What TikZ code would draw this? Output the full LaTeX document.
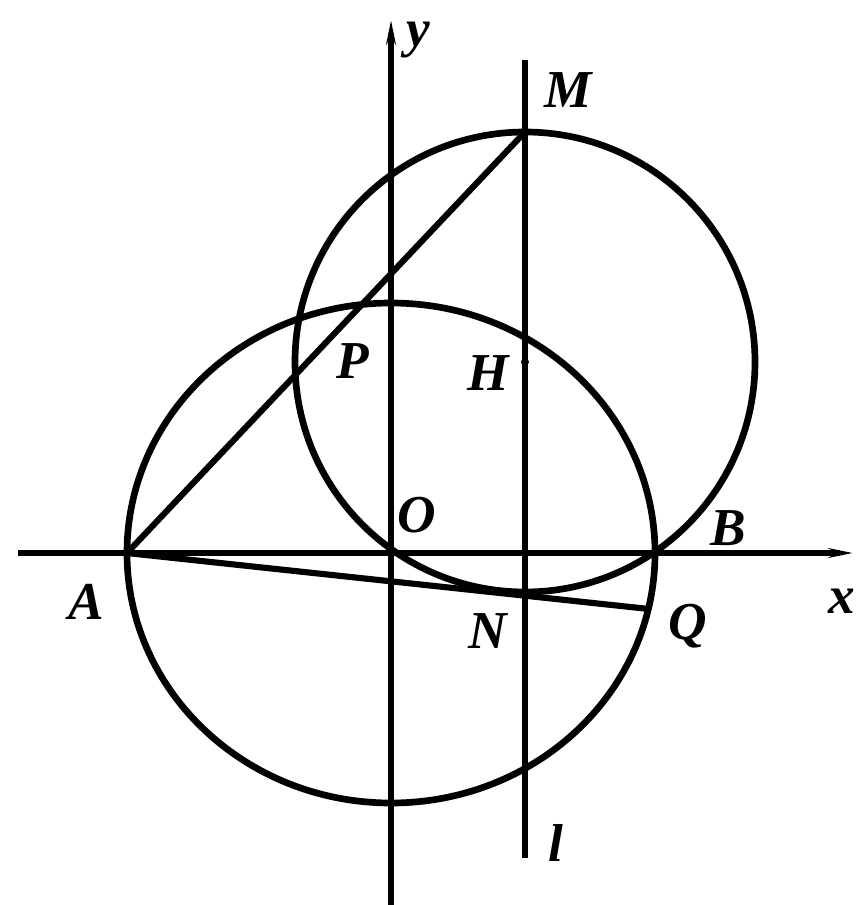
\documentclass[tikz,border=0pt]{standalone}
\usepackage{fontspec}
\setmainfont{Liberation Serif}
\usetikzlibrary{arrows.meta}
\begin{document}
\begin{tikzpicture}[x=0.75pt,y=-0.75pt,
  curve/.style={line width=5pt},
  seg/.style={line width=4.6pt},
  axis/.style={line width=4.3pt,-{Stealth[length=18pt,width=7pt]}},
  lbl/.style={font=\fontsize{40}{40}\selectfont\bfseries\itshape,inner sep=0pt}]
\useasboundingbox[fill=white] (0,0) rectangle (857,905);
% points
\coordinate (O) at (391,553);
\coordinate (A) at (127,553);
\coordinate (B) at (655,553);
\coordinate (M) at (525,132);
\coordinate (H) at (525,362);
\coordinate (N) at (525,593);
\coordinate (Q) at (649,609);
\coordinate (xs) at (18,553);
\coordinate (xe) at (853,553);
\coordinate (ys) at (391,905);
\coordinate (ye) at (391,20);
\coordinate (ls) at (525,60);
\coordinate (le) at (525,858);
% axes
\draw[axis] (xs) -- (xe);
\draw[axis] (ys) -- (ye);
% line l
\draw[seg] (ls) -- (le);
% ellipse and circle
\draw[curve] (O) ellipse [x radius=198pt, y radius=187.5pt];
\draw[curve] (H) circle [radius=172.5pt];
% lines
\draw[seg] (A) -- (M);
\draw[seg] (A) -- (Q);
\fill (H) circle [radius=3pt];
% labels
\node[lbl] (ly) at (418,40) {y};
\node[lbl] (lM) at (568,90) {M};
\node[lbl] (lP) at (353,361) {P};
\node[lbl] (lH) at (488,373) {H};
\node[lbl] (lO) at (417,515) {O};
\node[lbl] (lB) at (728,528) {B};
\node[lbl] (lA) at (86,602) {A};
\node[lbl] (lN) at (488,631) {N};
\node[lbl] (lQ) at (688,626) {Q};
\node[lbl] (lx) at (842,601) {x};
\node[lbl] (ll) at (556,843) {l};
\end{tikzpicture}
\end{document}
